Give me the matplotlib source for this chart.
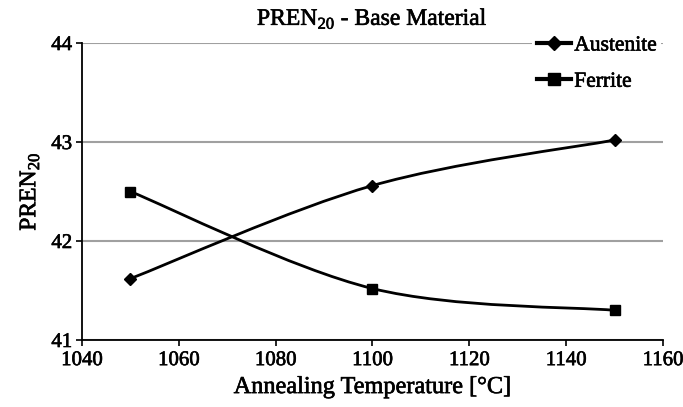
import numpy as np
import matplotlib
matplotlib.use('Agg')
import matplotlib.pyplot as plt
import matplotlib.patheffects as pe
from matplotlib.path import Path
from matplotlib.patches import PathPatch
from matplotlib.lines import Line2D

# annealing temperatures and PREN20 of each phase
temps = [1050, 1100, 1150]
austenite = [41.62, 42.56, 43.02]
ferrite = [42.50, 41.52, 41.30]

plt.rcParams['font.family'] = ['Liberation Serif', 'DejaVu Serif']
plt.rcParams['mathtext.fontset'] = 'custom'
plt.rcParams['mathtext.rm'] = 'Liberation Serif'

# slightly heavier strokes on the text
heavy = [pe.withStroke(linewidth=0.45, foreground='black')]


def smooth_path(x, y, tension=1/6.):
    # Catmull-Rom style bezier segments, like a spreadsheet "smoothed line"
    x = np.asarray(x, float); y = np.asarray(y, float)
    verts = [(x[0], y[0])]
    codes = [Path.MOVETO]
    n = len(x)
    for i in range(n - 1):
        p0 = (x[max(i-1, 0)], y[max(i-1, 0)])
        p1 = (x[i], y[i])
        p2 = (x[i+1], y[i+1])
        p3 = (x[min(i+2, n-1)], y[min(i+2, n-1)])
        c1 = (p1[0] + (p2[0]-p0[0])*tension, p1[1] + (p2[1]-p0[1])*tension)
        c2 = (p2[0] - (p3[0]-p1[0])*tension, p2[1] - (p3[1]-p1[1])*tension)
        verts += [c1, c2, p2]
        codes += [Path.CURVE4]*3
    return Path(verts, codes)


fig = plt.figure(figsize=(6.83, 4.07), dpi=100)
ax = fig.add_axes([0.12, 0.1646, 0.8507, 0.7297])

for vals, mk, ms in [(austenite, 'D', 6), (ferrite, 's', 7.5)]:
    ax.add_patch(PathPatch(smooth_path(temps, vals), facecolor='none',
                           edgecolor='black', lw=2.0, zorder=3))
    ax.plot(temps, vals, linestyle='none', marker=mk, ms=ms, color='black', zorder=4)

ax.set_xlim(1040, 1160)
ax.set_ylim(41, 44)
ax.set_xticks(np.arange(1040, 1161, 20))
ax.set_yticks([41, 42, 43, 44])
ax.yaxis.grid(True, color='#a0a0a0', lw=1.5)
ax.set_axisbelow(True)
for s in ['top', 'right']:
    ax.spines[s].set_visible(False)
for s in ['left', 'bottom']:
    ax.spines[s].set_linewidth(1.3)
ax.tick_params(labelsize=15, width=1.2, length=4, direction='out')
ax.tick_params(axis='x', pad=4)
ax.tick_params(axis='y', pad=3)
for lab in ax.get_xticklabels() + ax.get_yticklabels():
    lab.set_path_effects(heavy)

ax.set_title('PREN$_{20}$ - Base Material', fontsize=17, pad=13, path_effects=heavy)
ax.set_xlabel('Annealing Temperature [°C]', fontsize=17.5, labelpad=5, path_effects=heavy)
ax.set_ylabel('PREN$_{20}$', fontsize=17, labelpad=7, path_effects=heavy)

handles = [Line2D([], [], color='black', lw=3, marker='D', ms=7),
           Line2D([], [], color='black', lw=3, marker='s', ms=9)]
leg = ax.legend(handles, ['Austenite', 'Ferrite'], loc='upper left',
                bbox_to_anchor=(0.775, 1.04), frameon=True, framealpha=1,
                edgecolor='none', fontsize=15.5, handlelength=1.6, handletextpad=0.15,
                labelspacing=0.75, borderpad=0.2, borderaxespad=0)
for t in leg.get_texts():
    t.set_path_effects(heavy)

fig.savefig('out.png', dpi=100)
